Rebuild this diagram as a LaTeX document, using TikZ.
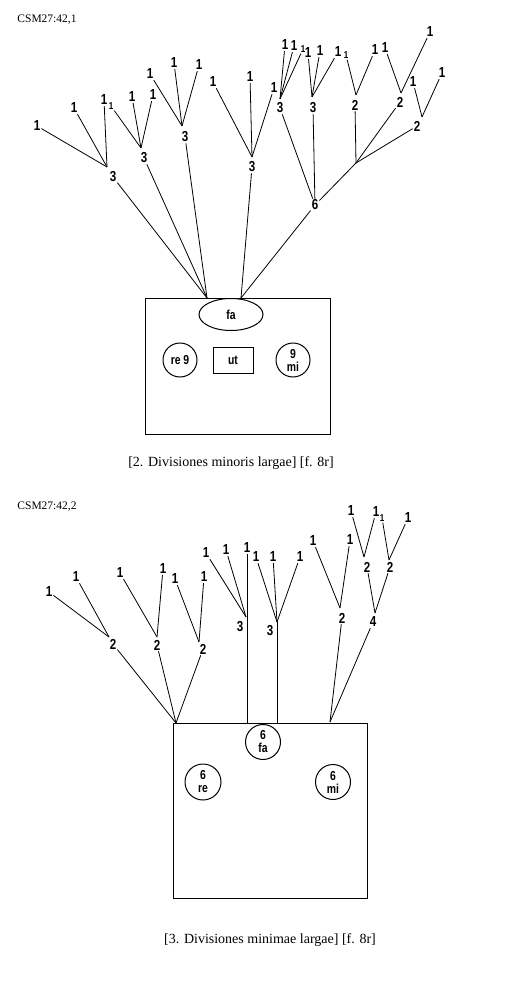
\documentclass[tikz,border=0pt]{standalone}
\usepackage{fontspec}
\setmainfont{Liberation Serif}
\newfontfamily\dsans[FakeStretch=0.8]{Liberation Sans}
\usetikzlibrary{shapes.geometric}
\begin{document}
\begin{tikzpicture}[x=1pt,y=-1pt,
  num/.style={font=\dsans\bfseries\fontsize{14.5}{14.5}\selectfont, inner sep=1pt},
  snum/.style={font=\dsans\bfseries\fontsize{10}{10}\selectfont, inner sep=1pt},
  edge/.style={line width=0.8pt},
  frame/.style={draw, line width=1pt, inner sep=0pt},
  syl/.style={draw, line width=1pt, inner sep=0pt, align=center,
    font=\dsans\bfseries\fontsize{13}{13}\selectfont},
  tag/.style={font=\fontsize{11.5}{11.5}\selectfont, inner sep=0pt},
  captxt/.style={font=\fontsize{14}{14}\selectfont, inner sep=0pt}]
\useasboundingbox (0,0) rectangle (504,1008);

% ================= Diagram 1 =================
\node[tag] (t1) at (47,20) {CSM27:42,1};

\coordinate (jA) at (107,167);
\coordinate (jB) at (141,148);
\coordinate (jC) at (182,126);
\coordinate (jD) at (252,157);
\coordinate (jE) at (280,99);
\coordinate (jF) at (312,97);
\coordinate (jG) at (356,95);
\coordinate (jH) at (401,93);
\coordinate (jI) at (422,117);
\coordinate (jK) at (356,163);
\coordinate (jL) at (207,298);
\coordinate (jR) at (241,298);

\node[num] (A) at (113,177) {3};
\node[num] (B) at (144,158) {3};
\node[num] (C) at (185,137) {3};
\node[num] (D) at (252,167) {3};
\node[num] (E) at (280,108) {3};
\node[num] (F) at (313,108) {3};
\node[num] (G) at (355,105) {2};
\node[num] (H) at (400,102) {2};
\node[num] (I) at (417,126) {2};
\node[num] (S) at (315,205) {6};

\node[num] (A1) at (37,126) {1};
\node[num] (A2) at (74,108) {1};
\node[num] (A3) at (104,100) {1};
\node[snum] (B1) at (111,106) {1};
\node[num] (B2) at (132,97) {1};
\node[num] (B3) at (153,95) {1};
\node[num] (C1) at (150,74) {1};
\node[num] (C2) at (174,63) {1};
\node[num] (C3) at (199,65) {1};
\node[num] (D1) at (213,82) {1};
\node[num] (D2) at (250,77) {1};
\node[num] (D3) at (274,88) {1};
\node[num] (E1) at (285,45) {1};
\node[num] (E2) at (294,46) {1};
\node[snum] (E3) at (303,49) {1};
\node[num] (F1) at (308,53) {1};
\node[num] (F2) at (320,51) {1};
\node[num] (F3) at (338,52) {1};
\node[snum] (G1) at (346,55) {1};
\node[num] (G2) at (375,50) {1};
\node[num] (H1) at (385,48) {1};
\node[num] (H2) at (430,32) {1};
\node[num] (I1) at (413,82) {1};
\node[num] (I2) at (442,73) {1};

\foreach \a/\b in {A1/jA,A2/jA,A3/jA,B1/jB,B2/jB,B3/jB,C1/jC,C2/jC,C3/jC,
  D1/jD,D2/jD,D3/jD,E1/jE,E2/jE,E3/jE,F1/jF,F2/jF,F3/jF,G1/jG,G2/jG,
  H1/jH,H2/jH,I1/jI,I2/jI,A/jL,B/jL,C/jL,D/jR,S/jR,G/jK,H/jK,I/jK,jK/S,E/S,F/S}
  \draw[edge] (\a) -- (\b);

\node[frame, minimum width=185, minimum height=136] (box1) at (237.5,366) {};
\node[syl, ellipse, minimum width=64, minimum height=32, fill=white] (fa1) at (231,314.5) {fa};
\node[syl, circle, minimum size=34] (re1) at (180,360) {re 9};
\node[syl, minimum width=40, minimum height=26] (ut1) at (233,360) {ut};
\node[syl, circle, minimum size=34] (mi1) at (293,360) {9\\mi};

\node[captxt] (c1) at (231,463) {[2. Divisiones minoris largae] [f. 8r]};

% ================= Diagram 2 =================
\node[tag] (t2) at (47,507) {CSM27:42,2};

\coordinate (ja) at (109,637);
\coordinate (jb) at (157,637);
\coordinate (jc) at (199,642);
\coordinate (jd) at (246,617);
\coordinate (je) at (277,622);
\coordinate (jf) at (340,608);
\coordinate (jg) at (375,613);
\coordinate (jh) at (364,557);
\coordinate (ji) at (389,560);
\coordinate (kl) at (176,723);
\coordinate (km) at (247,723);
\coordinate (kn) at (277,723);
\coordinate (kr) at (330,722);

\node[num] (a) at (113,644) {2};
\node[num] (b) at (157,645) {2};
\node[num] (c) at (203,649) {2};
\node[num] (d) at (240,627) {3};
\node[num] (e) at (270,631) {3};
\node[num] (f) at (342,618) {2};
\node[num] (g) at (373,622) {4};
\node[num] (h) at (367,567) {2};
\node[num] (i) at (390,567) {2};

\node[num] (a1) at (49,592) {1};
\node[num] (a2) at (76,577) {1};
\node[num] (b1) at (120,573) {1};
\node[num] (b2) at (163,569) {1};
\node[num] (c1l) at (175,579) {1};
\node[num] (c2l) at (204,577) {1};
\node[num] (d1) at (206,553) {1};
\node[num] (d2) at (226,550) {1};
\node[num] (d3) at (247,548) {1};
\node[num] (e1) at (256,557) {1};
\node[num] (e2) at (273,557) {1};
\node[num] (e3) at (300,557) {1};
\node[num] (f1) at (313,541) {1};
\node[num] (f2) at (350,540) {1};
\node[num] (h1) at (351,511) {1};
\node[num] (h2) at (376,512) {1};
\node[snum] (i1) at (382,518) {1};
\node[num] (i2) at (408,518) {1};

\foreach \a/\b in {a1/ja,a2/ja,b1/jb,b2/jb,c1l/jc,c2l/jc,d1/jd,d2/jd,d3/km,
  e1/je,e2/je,e3/je,je/kn,f1/jf,f2/jf,h1/jh,h2/jh,i1/ji,i2/ji,h/jg,i/jg,
  a/kl,b/kl,c/kl,f/kr,g/kr}
  \draw[edge] (\a) -- (\b);

\node[frame, minimum width=194, minimum height=175] (box2) at (270,810.5) {};
\node[syl, circle, minimum size=35] (fa2) at (263,742) {6\\fa};
\node[syl, circle, minimum size=36] (re2) at (203,782) {6\\re};
\node[syl, circle, minimum size=35] (mi2) at (333,782) {6\\mi};

\node[captxt] (c2) at (270,940) {[3. Divisiones minimae largae] [f. 8r]};
\end{tikzpicture}
\end{document}
